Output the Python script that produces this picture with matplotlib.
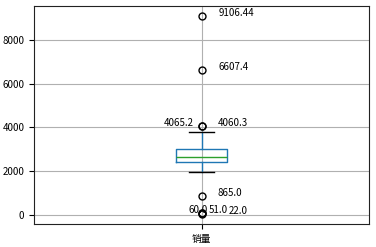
import matplotlib
matplotlib.use("Agg")
import matplotlib.pyplot as plt
import numpy as np

plt.rcParams['font.family'] = ['Noto Sans CJK SC', 'DejaVu Sans']
plt.rcParams['axes.unicode_minus'] = False
plt.rcParams['font.size'] = 7

category = '销量'
q1, median, q3 = 2410.0, 2640.0, 3020.0
whislo, whishi = 1940.0, 3770.0
fliers = [22.0, 51.0, 60.0, 865.0, 4060.3, 4065.2, 6607.4, 9106.44]

fig = plt.figure(figsize=(3.76, 2.47), dpi=100)
ax = fig.add_axes([34/376, 1-224/247, (369-34)/376, (224-6)/247])

stats = [dict(med=median, q1=q1, q3=q3, whislo=whislo, whishi=whishi,
              fliers=np.array(fliers), label=category)]
bp = ax.bxp(stats, positions=[1], widths=0.155,
            boxprops=dict(color='#1f77b4'),
            whiskerprops=dict(color='#1f77b4'),
            capprops=dict(color='black'),
            medianprops=dict(color='#2ca02c'),
            flierprops=dict(marker='o', markerfacecolor='none', markeredgecolor='black', markersize=5))
ax.grid(True, color='#b0b0b0', linewidth=0.8)
ax.set_axisbelow(True)
ax.set_xlim(0.5, 1.5)

x = bp['fliers'][0].get_xdata()
y = np.sort(np.asarray(bp['fliers'][0].get_ydata(), dtype=float))
for i in range(len(y)):
    if i > 0:
        ax.annotate(str(y[i]), xy=(x[i], y[i]),
                    xytext=(x[i] + 0.05 - 0.8 / (y[i] - y[i-1]), y[i]), fontsize=7)
    else:
        ax.annotate(str(y[i]), xy=(x[i], y[i]), xytext=(x[i] + 0.08, y[i]), fontsize=7)

for s in ax.spines.values():
    s.set_color('#222222')

fig.savefig('out.png', dpi=100)
